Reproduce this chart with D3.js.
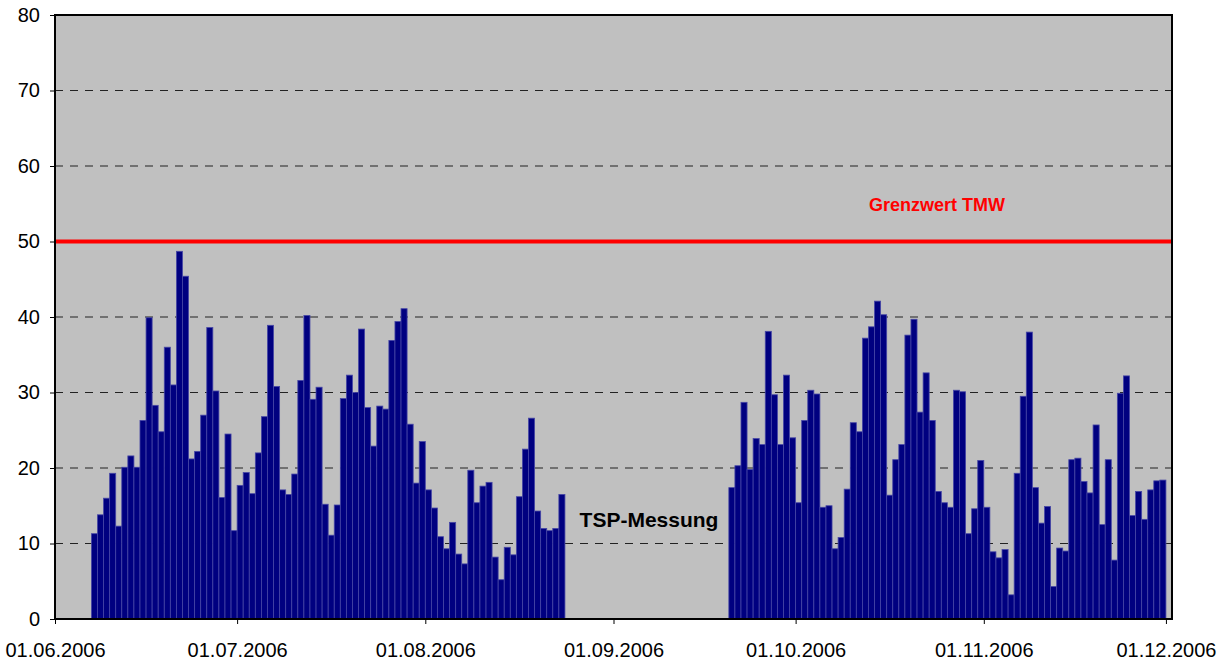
<!DOCTYPE html>
<html>
<head>
<meta charset="utf-8">
<script src="https://cdn.jsdelivr.net/npm/d3@7"></script>
<style>
  html, body { margin: 0; padding: 0; background: #ffffff; }
  #chart { width: 1230px; height: 661px; }
  text { font-family: "Liberation Sans", Arial, sans-serif; }
</style>
</head>
<body>
<div id="chart"></div>
<script>
// TSP daily means (µg/m³), two measuring periods
const periodAStart = "2006-06-07";
const periodAValues = [
  11.3, 13.8, 16.0, 19.3, 12.3, 20.1, 21.6, 20.1, 26.3, 39.9,
  28.3, 24.8, 36.0, 31.0, 48.7, 45.4, 21.2, 22.2, 27.0, 38.6,
  30.2, 16.1, 24.5, 11.7, 17.7, 19.4, 16.6, 22.0, 26.8, 38.9,
  30.8, 17.1, 16.5, 19.2, 31.6, 40.2, 29.1, 30.7, 15.2, 11.1,
  15.1, 29.2, 32.3, 30.0, 38.4, 28.0, 22.9, 28.2, 27.8, 36.9,
  39.4, 41.1, 25.8, 18.0, 23.5, 17.1, 14.7, 10.9, 9.3, 12.8,
  8.6, 7.3, 19.7, 15.4, 17.6, 18.1, 8.2, 5.2, 9.5, 8.5,
  16.2, 22.5, 26.6, 14.3, 12.0, 11.7, 12.0, 16.5
];
const periodBStart = "2006-09-20";
const periodBValues = [
  17.4, 20.3, 28.7, 19.8, 23.9, 23.1, 38.1, 29.7, 23.1, 32.3,
  24.0, 15.4, 26.3, 30.3, 29.8, 14.8, 15.0, 9.3, 10.8, 17.2,
  26.0, 24.8, 37.2, 38.7, 42.1, 40.3, 16.4, 21.1, 23.1, 37.6,
  39.7, 27.4, 32.6, 26.3, 16.9, 15.4, 14.8, 30.3, 30.1, 11.3,
  14.6, 21.0, 14.8, 8.9, 8.1, 9.2, 3.2, 19.3, 29.5, 38.0,
  17.4, 12.7, 14.9, 4.3, 9.4, 9.0, 21.1, 21.3, 18.2, 16.7,
  25.7, 12.5, 21.1, 7.8, 29.9, 32.2, 13.7, 16.9, 13.2, 17.1,
  18.3, 18.4
];
const limitValue = 50;
const limitLabel = "Grenzwert TMW";
const seriesLabel = "TSP-Messung";
const yTicks = [0, 10, 20, 30, 40, 50, 60, 70, 80];

const width = 1230, height = 661;
const plot = { left: 55, right: 1172, top: 15, bottom: 619 };

const parse = d3.utcParse("%Y-%m-%d");
function toDays(start, values) {
  const s = parse(start);
  return values.map((v, i) => ({ date: d3.utcDay.offset(s, i), value: v }));
}
const data = toDays(periodAStart, periodAValues).concat(toDays(periodBStart, periodBValues));

const svg = d3.select("#chart").append("svg")
    .attr("width", width)
    .attr("height", height);

const x = d3.scaleUtc()
    .domain([parse("2006-06-01"), parse("2006-12-02")])
    .range([plot.left, plot.right]);

const y = d3.scaleLinear()
    .domain([0, 80])
    .range([plot.bottom, plot.top]);

// plot background
svg.append("rect")
    .attr("x", plot.left).attr("y", plot.top)
    .attr("width", plot.right - plot.left).attr("height", plot.bottom - plot.top)
    .attr("fill", "#c0c0c0");

// gridlines
svg.append("g")
    .selectAll("line")
    .data(yTicks.filter(d => d > 0 && d < 80))
    .join("line")
    .attr("x1", plot.left).attr("x2", plot.right)
    .attr("y1", d => y(d)).attr("y2", d => y(d))
    .attr("stroke", "#222")
    .attr("stroke-width", 1)
    .attr("stroke-dasharray", "8,7");

// bars
svg.append("g")
    .selectAll("rect")
    .data(data)
    .join("rect")
    .attr("x", d => x(d.date))
    .attr("width", d => x(d3.utcDay.offset(d.date, 1)) - x(d.date))
    .attr("y", d => y(d.value))
    .attr("height", d => y(0) - y(d.value))
    .attr("fill", "#000080")
    .attr("stroke", "#4646a6")
    .attr("stroke-width", 0.8);

// limit line
svg.append("line")
    .attr("x1", plot.left).attr("x2", plot.right)
    .attr("y1", y(limitValue)).attr("y2", y(limitValue))
    .attr("stroke", "#ff0000")
    .attr("stroke-width", 4);

svg.append("text")
    .attr("x", 937).attr("y", 211)
    .attr("text-anchor", "middle")
    .attr("fill", "#ff0000")
    .attr("font-weight", "bold")
    .attr("font-size", "18px")
    .text(limitLabel);

svg.append("text")
    .attr("x", 649).attr("y", 527)
    .attr("text-anchor", "middle")
    .attr("fill", "#000")
    .attr("font-weight", "bold")
    .attr("font-size", "21px")
    .text(seriesLabel);

// axes
const yAxis = svg.append("g")
    .attr("transform", `translate(${plot.left},0)`)
    .call(d3.axisLeft(y).tickValues(yTicks).tickSize(5).tickPadding(10).tickFormat(d3.format("d")));

const xAxis = svg.append("g")
    .attr("transform", `translate(0,${plot.bottom})`)
    .call(d3.axisBottom(x)
        .tickValues(d3.utcMonth.range(parse("2006-06-01"), parse("2006-12-02")))
        .tickSize(5).tickPadding(19)
        .tickFormat(d3.utcFormat("%d.%m.%Y")));

[yAxis, xAxis].forEach(g => {
  g.select(".domain").remove();
  g.selectAll("line").attr("stroke", "#000");
  g.selectAll("text")
    .attr("font-family", "'Liberation Sans', Arial, sans-serif")
    .attr("font-size", "20px")
    .attr("fill", "#000");
});

// plot frame
svg.append("rect")
    .attr("x", plot.left).attr("y", plot.top)
    .attr("width", plot.right - plot.left).attr("height", plot.bottom - plot.top)
    .attr("fill", "none")
    .attr("stroke", "#000")
    .attr("stroke-width", 2);
</script>
</body>
</html>
